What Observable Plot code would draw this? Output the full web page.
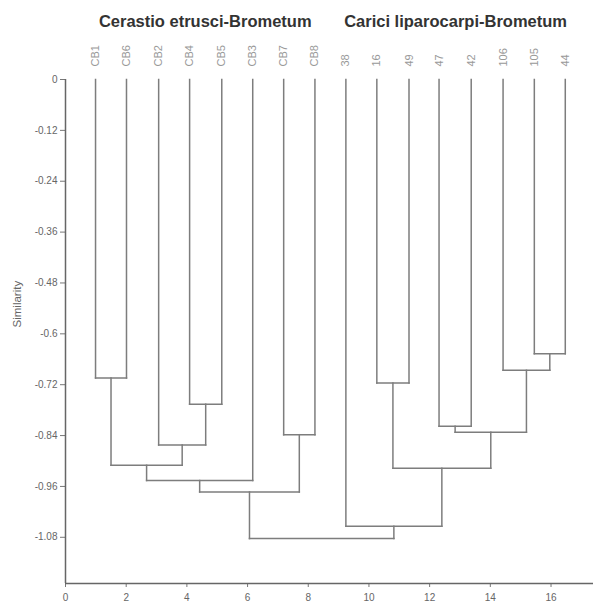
<!DOCTYPE html>
<html>
<head>
<meta charset="utf-8">
<script src="https://cdn.jsdelivr.net/npm/d3@7"></script>
<script src="https://cdn.jsdelivr.net/npm/@observablehq/plot@0.6"></script>
<style>
  body { margin: 0; background: #fff; }
  svg { font-family: "Liberation Sans", Arial, sans-serif; }
</style>
</head>
<body>
<div id="chart"></div>
<script>
// Leaves (left to right) and their x positions
const leafLabels = ["CB1","CB6","CB2","CB4","CB5","CB3","CB7","CB8","38","16","49","47","42","106","105","44"];
const leafX = [0.99, 2.01, 3.07, 4.09, 5.15, 6.17, 7.19, 8.22, 9.24, 10.26, 11.32, 12.31, 13.37, 14.42, 15.45, 16.47];

// Merges: node ids 0..15 are leaves, merge k creates node 16+k
const mergeLeft   = [0, 3, 2, 16, 19, 6, 20, 14, 13, 11, 25, 9, 27, 8, 22];
const mergeRight  = [1, 4, 17, 18, 5, 7, 21, 15, 23, 12, 24, 10, 26, 28, 29];
const mergeHeight = [-0.704, -0.766, -0.862, -0.910, -0.946, -0.838, -0.973, -0.647, -0.686, -0.818, -0.832, -0.716, -0.917, -1.054, -1.083];

// Groups
const groupNames = ["Cerastio etrusci-Brometum", "Carici liparocarpi-Brometum"];
const groupFirst = [0, 8];
const groupLast = [7, 15];

// Axis ticks
const xTicks = [0, 2, 4, 6, 8, 10, 12, 14, 16];
const yTicks = [0, -0.12, -0.24, -0.36, -0.48, -0.6, -0.72, -0.84, -0.96, -1.08];
const yTickLabels = ["0", "-0.12", "-0.24", "-0.36", "-0.48", "-0.6", "-0.72", "-0.84", "-0.96", "-1.08"];

// Build tree segments
const nodeX = leafX.slice();
const nodeY = leafX.map(() => 0);
const segs = [];
mergeLeft.forEach((a, k) => {
  const b = mergeRight[k], h = mergeHeight[k];
  segs.push({x1: nodeX[a], y1: nodeY[a], x2: nodeX[a], y2: h});
  segs.push({x1: nodeX[b], y1: nodeY[b], x2: nodeX[b], y2: h});
  segs.push({x1: nodeX[a], y1: h, x2: nodeX[b], y2: h});
  nodeX.push((nodeX[a] + nodeX[b]) / 2);
  nodeY.push(h);
});

const leaves = leafLabels.map((l, i) => ({label: l, x: leafX[i]}));
const groups = groupNames.map((g, i) => ({name: g, x: (leafX[groupFirst[i]] + leafX[groupLast[i]]) / 2}));

const lineColor = "#7d7d7d";
const chart = Plot.plot({
  width: 596,
  height: 607,
  marginLeft: 65,
  marginRight: 3,
  marginTop: 79,
  marginBottom: 24,
  style: {fontFamily: "'Liberation Sans', Arial, sans-serif", background: "#fff"},
  x: {domain: [0, 17.4]},
  y: {domain: [-1.189, 0]},
  marks: [
    Plot.axisX({ticks: xTicks, tickSize: 4, tickPadding: 6, fontSize: 10, color: "#666", label: null, stroke: "#777"}),
    Plot.axisY({ticks: yTicks, tickFormat: (d) => yTickLabels[yTicks.indexOf(d)], tickSize: 5, tickPadding: 3, fontSize: 10, color: "#666",
                label: null, stroke: "#777"}),
    Plot.text(["Similarity"], {frameAnchor: "left", y: -0.585, dx: -48, rotate: -90, fill: "#666", fontSize: 11.5}),
    Plot.ruleX([0], {y1: -1.189, y2: 0, stroke: "#666", strokeWidth: 1.5}),
    Plot.ruleY([-1.189], {stroke: "#666", strokeWidth: 1.5}),
    Plot.link(segs, {x1: "x1", y1: "y1", x2: "x2", y2: "y2", stroke: lineColor, strokeWidth: 1.5, strokeLinecap: "square"}),
    Plot.text(leaves, {x: "x", y: 0, text: "label", rotate: -90, textAnchor: "start", dy: -13, fill: "#999", fontSize: 11}),
    Plot.text(groups, {x: "x", frameAnchor: "top", lineAnchor: "middle", text: "name", dy: -58, fill: "#333", fontSize: 16.5, fontWeight: "bold"})
  ]
});
document.getElementById("chart").appendChild(chart);
</script>
</body>
</html>
